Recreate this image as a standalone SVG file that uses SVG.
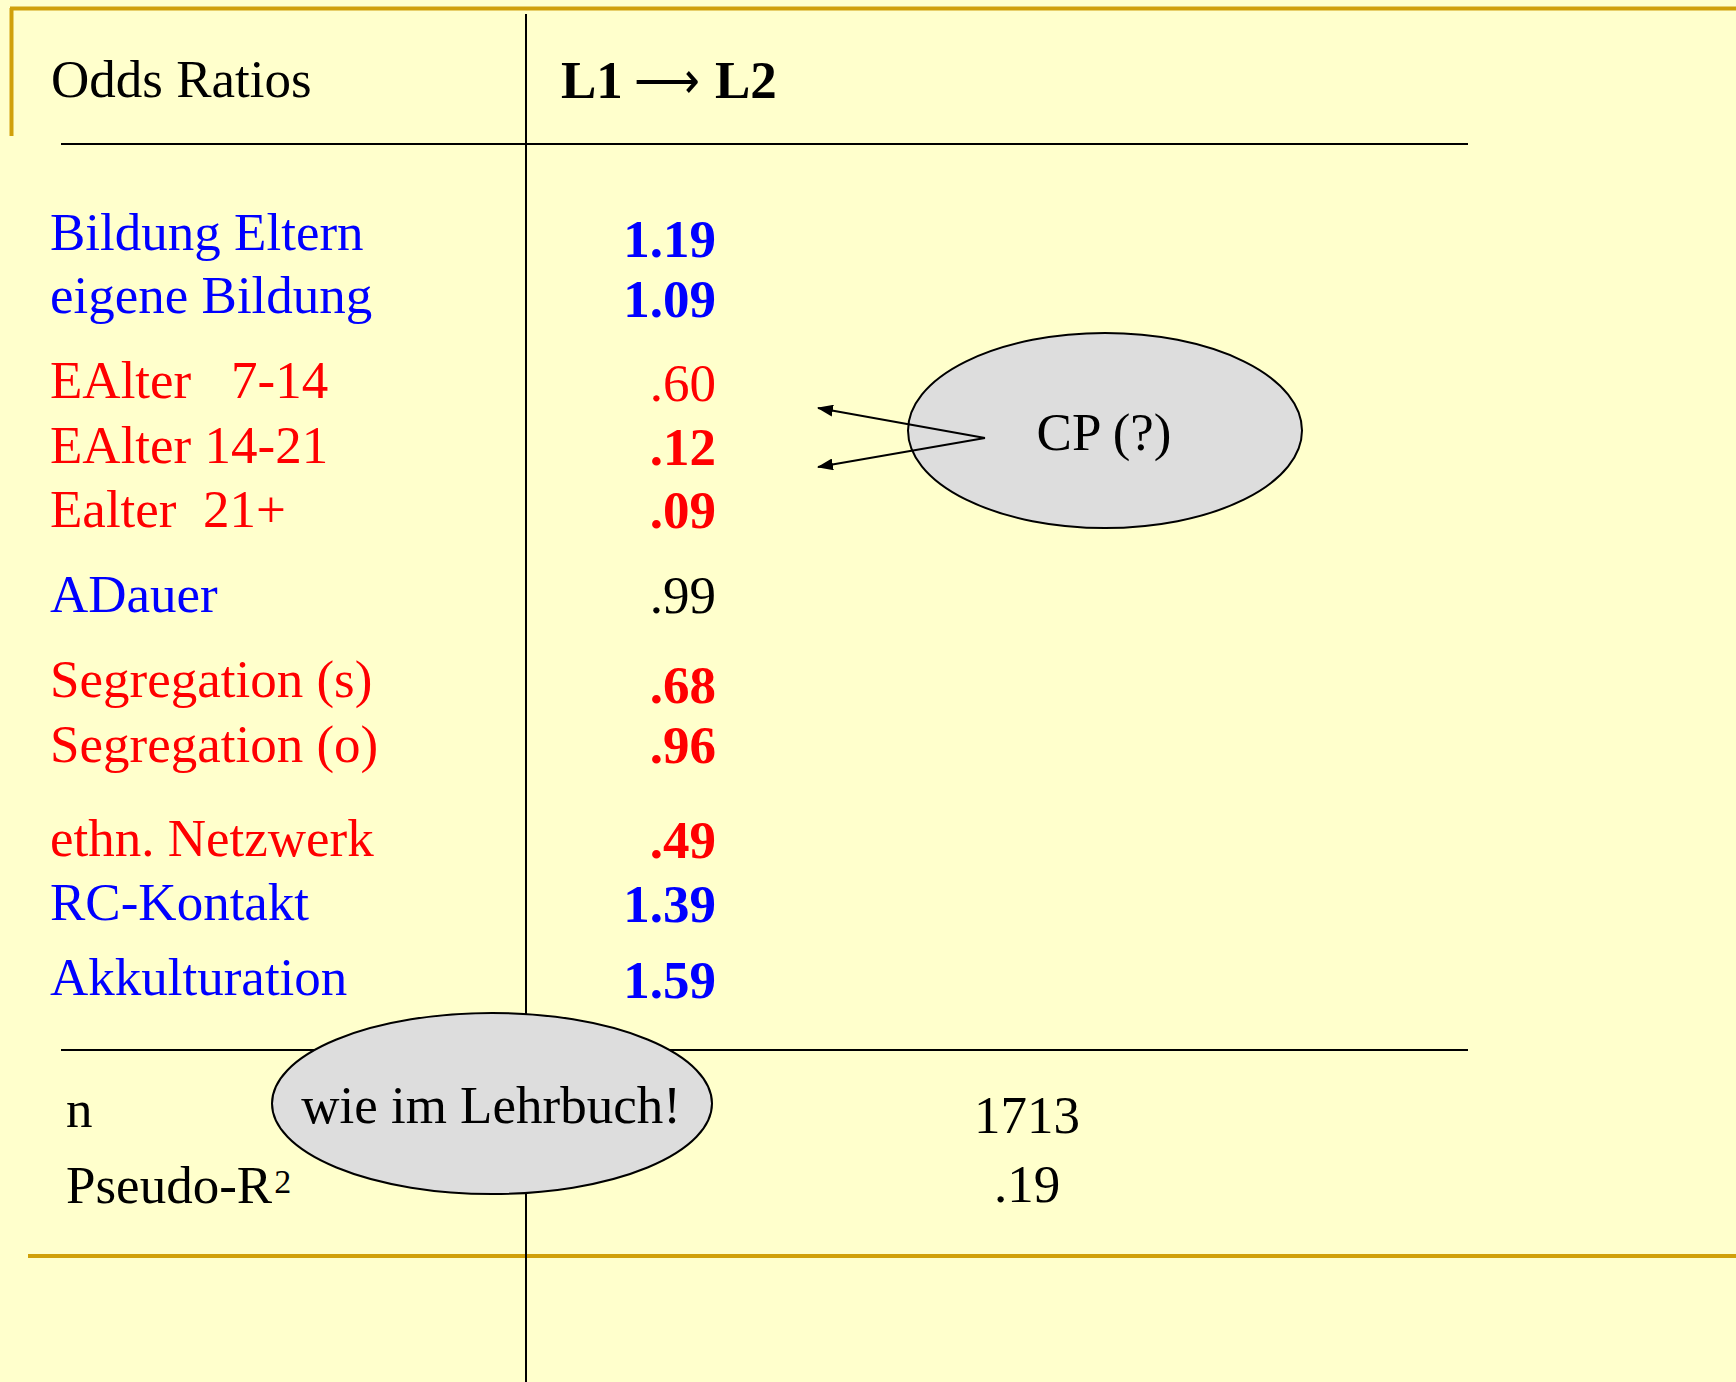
<svg xmlns="http://www.w3.org/2000/svg" width="1736" height="1382" viewBox="0 0 1736 1382">
<style>
text{font-family:"Liberation Serif","Times New Roman",serif;font-size:53px;white-space:pre}
.b{fill:#0000FF}.r{fill:#FF0000}.k{fill:#000}
.bold{font-weight:bold}
.num{text-anchor:end}
.gold{stroke:#D0A00A;stroke-width:4;fill:none}
.rule{stroke:#000;stroke-width:2;fill:none}
.bubble{fill:#DDDDDD;stroke:#000;stroke-width:2}
.conn{stroke:#000;stroke-width:2;fill:none;marker-end:url(#ah)}
</style>
<defs>
<marker id="ah" viewBox="0 0 16 12" refX="15" refY="6" markerWidth="16" markerHeight="12" markerUnits="userSpaceOnUse" orient="auto">
<path d="M0,0 L16,6 L0,12 Z" fill="#000"/>
</marker>
</defs>
<rect width="1736" height="1382" fill="#FFFFCC"/>
<g id="frame">
<line class="gold" x1="10" y1="8.5" x2="1736" y2="8.5"/>
<line class="gold" x1="11.5" y1="8" x2="11.5" y2="136"/>
<line class="gold" x1="28" y1="1256" x2="1736" y2="1256"/>
<line class="rule" x1="526" y1="14" x2="526" y2="1382"/>
<line class="rule" x1="61" y1="144" x2="1468" y2="144"/>
<line class="rule" x1="61" y1="1050" x2="1468" y2="1050"/>
</g>
<g id="header">
<text class="k" x="51" y="97">Odds Ratios</text>
<text class="k bold" x="561" y="98">L1<tspan x="634" font-weight="normal" textLength="66" lengthAdjust="spacingAndGlyphs">⟶</tspan><tspan x="715">L2</tspan></text>
</g>
<g id="labels">
<text class="b" x="50" y="250">Bildung Eltern</text>
<text class="b" x="50" y="313">eigene Bildung</text>
<text class="r" x="50" y="398">EAlter   7-14</text>
<text class="r" x="50" y="463">EAlter 14-21</text>
<text class="r" x="50" y="527">Ealter  21+</text>
<text class="b" x="50" y="612">ADauer</text>
<text class="r" x="50" y="697">Segregation (s)</text>
<text class="r" x="50" y="762">Segregation (o)</text>
<text class="r" x="50" y="856">ethn. Netzwerk</text>
<text class="b" x="50" y="920">RC-Kontakt</text>
<text class="b" x="50" y="995">Akkulturation</text>
</g>
<g id="values">
<text class="b bold num" x="716" y="257">1.19</text>
<text class="b bold num" x="716" y="317">1.09</text>
<text class="r num" x="716" y="401">.60</text>
<text class="r bold num" x="716" y="465">.12</text>
<text class="r bold num" x="716" y="528">.09</text>
<text class="k num" x="716" y="613">.99</text>
<text class="r bold num" x="716" y="703">.68</text>
<text class="r bold num" x="716" y="763">.96</text>
<text class="r bold num" x="716" y="858">.49</text>
<text class="b bold num" x="716" y="922">1.39</text>
<text class="b bold num" x="716" y="998">1.59</text>
</g>
<g id="stats">
<text class="k" x="66" y="1127">n</text>
<text class="k" x="66" y="1203">Pseudo-R<tspan font-size="34" dx="2" dy="-10">2</tspan></text>
<text class="k" x="1027" y="1133" text-anchor="middle">1713</text>
<text class="k" x="1027" y="1202" text-anchor="middle">.19</text>
</g>
<g id="cp-node">
<ellipse class="bubble" cx="1105" cy="430.5" rx="197" ry="97.5"/>
<text class="k" x="1104" y="450" text-anchor="middle">CP (?)</text>
</g>
<g id="lehrbuch-node">
<ellipse class="bubble" cx="492" cy="1103.5" rx="220" ry="90.5"/>
<text class="k" x="491" y="1123" text-anchor="middle">wie im Lehrbuch!</text>
</g>
<g id="connectors">
<line class="conn" x1="985" y1="438" x2="818" y2="408"/>
<line class="conn" x1="985" y1="438" x2="818" y2="467"/>
</g>
</svg>
